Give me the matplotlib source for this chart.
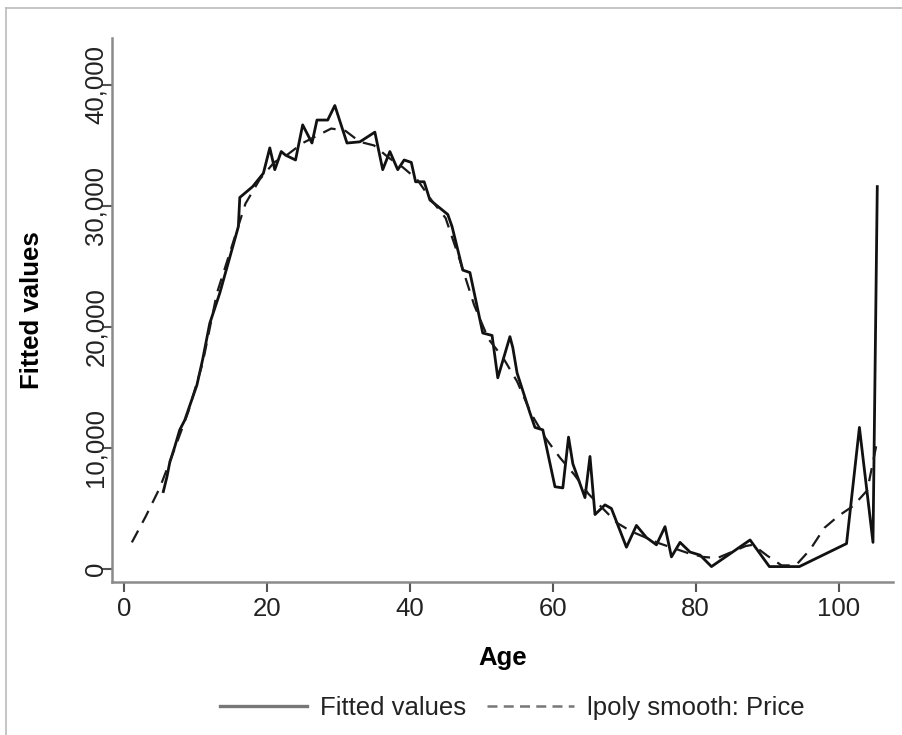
import matplotlib
matplotlib.use("Agg")
import matplotlib.pyplot as plt
from matplotlib.lines import Line2D

plt.rcParams['font.family'] = ['Liberation Sans', 'DejaVu Sans']

# mean price by age (solid line)
fit_age = [5.5, 6, 6.4, 7.1, 7.8, 8.5, 9.2, 10.2, 11, 12, 13.4, 15.2, 16, 16.2,
           18, 19.5, 20.4, 21.1, 22, 22.6, 24, 25, 26.3, 27, 28.5, 29.5, 31.2,
           33, 35.1, 36.2, 37.2, 38.3, 39.2, 40.2, 40.8, 42, 42.8, 45.3, 45.9,
           47.4, 48.4, 49.8, 50.2, 51.5, 52.3, 54, 54.4, 55, 56.8, 57.5, 58.6,
           60.3, 61.4, 62.2, 62.8, 64.5, 65.2, 65.9, 67.3, 68.2, 70.3, 71.7,
           73.1, 74.5, 75.7, 76.6, 77.8, 79.2, 80.6, 82.2, 87.6, 90.3, 94.5,
           101.1, 102.9, 104.8, 105.4]
fit_val = [6400, 7600, 8800, 10100, 11500, 12300, 13500, 15200, 17300, 20300,
           22800, 26600, 28300, 30700, 31600, 32700, 34800, 33000, 34500, 34200,
           33800, 36700, 35200, 37100, 37100, 38300, 35200, 35300, 36100, 33000,
           34500, 33000, 33800, 33600, 32000, 32000, 30500, 29300, 28300, 24700,
           24500, 20600, 19500, 19300, 15800, 19200, 18300, 16200, 12900, 11700,
           11500, 6800, 6700, 10900, 8700, 5900, 9300, 4500, 5300, 5000, 1800,
           3600, 2600, 2000, 3500, 1000, 2200, 1400, 1150, 200, 2400, 200, 200,
           2100, 11700, 2200, 31600]

# local polynomial smooth (dashed line)
smooth_age = [1.1, 3, 5, 7, 9, 11, 13, 15, 17, 19, 21, 23, 25, 27, 29, 31, 33,
              35, 37, 39, 41, 43, 45, 47, 49, 51, 53, 55, 57, 59, 61, 63, 65,
              67, 69, 71, 73, 75, 77, 79, 81, 83, 85, 87, 88, 90, 92, 94, 96,
              98, 100, 102, 104, 105.4]
smooth_val = [2200, 4300, 6700, 9800, 13000, 17000, 22800, 26500, 30200, 32200,
              33600, 34300, 35200, 35800, 36400, 36200, 35300, 35000, 34000,
              33200, 32200, 30500, 29000, 25500, 21800, 19000, 17500, 15500,
              12800, 10800, 9200, 7800, 6200, 5000, 3800, 3100, 2600, 2100,
              1700, 1300, 1000, 900, 1400, 1900, 2000, 1100, 300, 300, 1600,
              3400, 4400, 5200, 6500, 10600]

x_ticks = [0, 20, 40, 60, 80, 100]
y_ticks = [0, 10000, 20000, 30000, 40000]
y_tick_labels = ['0', '10,000', '20,000', '30,000', '40,000']

fig = plt.figure(figsize=(9.02, 7.35), dpi=100)
ax = fig.add_axes([112 / 902, 1 - 582 / 735, 781 / 902, 544 / 735])

ax.plot(fit_age, fit_val, color='#111111', lw=2.0, label='Fitted values')
ax.plot(smooth_age, smooth_val, color='#1a1a1a', lw=1.6, ls=(0, (6, 4)),
        label='lpoly smooth: Price')

ax.set_xlim(-1.68, 107.6)
ax.set_ylim(-1074, 43880)
ax.set_xticks(x_ticks)
ax.set_yticks(y_ticks)
ax.set_yticklabels(y_tick_labels, rotation=90, va='center')

for s in ['top', 'right']:
    ax.spines[s].set_visible(False)
for s in ['left', 'bottom']:
    ax.spines[s].set_color('#8a8a8a')
    ax.spines[s].set_linewidth(1.8)
ax.tick_params(axis='both', labelsize=18.5, length=7, width=1.5,
               color='#555555', labelcolor='#222222')
ax.tick_params(axis='x', pad=4)
ax.tick_params(axis='y', pad=-4)

ax.set_xlabel('Age', fontsize=18.5, fontweight='bold', labelpad=18)
ax.set_ylabel('Fitted values', fontsize=18.5, fontweight='bold', labelpad=29)

handles = [Line2D([], [], color='#777777', lw=2.4),
           Line2D([], [], color='#777777', lw=1.8, ls=(0, (4, 2.5)))]
fig.legend(handles, ['Fitted values', 'lpoly smooth: Price'],
           loc='center', bbox_to_anchor=(512 / 902, 1 - 708 / 735), ncol=2,
           frameon=False, fontsize=18.5, handlelength=3.4, columnspacing=0.8,
           handletextpad=0.5, labelcolor='#222222')

# light frame around the graph region
fig.add_artist(Line2D([6 / 902, 6 / 902], [0, 1 - 8 / 735],
                      transform=fig.transFigure, color='#bbbbbb', lw=1.2))
fig.add_artist(Line2D([6 / 902, 1], [1 - 8 / 735, 1 - 8 / 735],
                      transform=fig.transFigure, color='#bbbbbb', lw=1.2))

fig.savefig('out.png', dpi=100)
